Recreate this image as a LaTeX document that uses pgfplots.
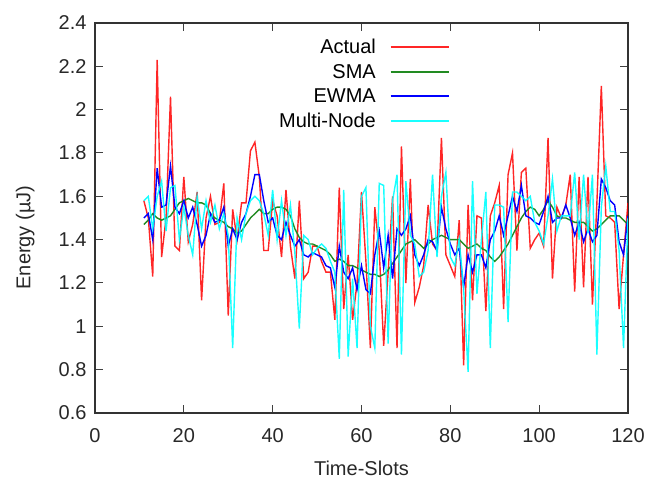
\documentclass[border=0pt]{standalone}
\usepackage{pgfplots}
\pgfplotsset{compat=1.18}
\usepackage{pgfplotstable}
\usepackage{fontspec}
\setmainfont{Liberation Sans}
\definecolor{cred}{RGB}{255,0,0}
\definecolor{cgreen}{RGB}{34,139,34}
\definecolor{cblue}{RGB}{0,0,255}
\definecolor{ccyan}{RGB}{0,255,255}
\definecolor{txt}{RGB}{40,40,40}

\pgfplotstableread{
t v
11 1.58
12 1.50
13 1.23
14 2.23
15 1.32
16 1.50
17 2.06
18 1.37
19 1.35
20 1.69
21 1.39
22 1.47
23 1.62
24 1.12
25 1.50
26 1.60
27 1.47
28 1.48
29 1.66
30 1.05
31 1.54
32 1.40
33 1.57
34 1.57
35 1.81
36 1.85
37 1.69
38 1.35
39 1.35
40 1.58
41 1.51
42 1.32
43 1.63
44 1.37
45 1.22
46 1.58
47 1.22
48 1.25
49 1.37
50 1.37
51 1.30
52 1.25
53 1.25
54 1.03
55 1.64
56 1.08
57 1.33
58 1.03
59 1.20
60 1.62
61 1.30
62 0.90
63 1.55
64 1.35
65 0.91
66 1.25
67 1.60
68 0.90
69 1.83
70 1.20
71 1.68
72 1.11
73 1.18
74 1.28
75 1.56
76 1.38
77 1.35
78 1.87
79 1.33
80 1.28
81 1.23
82 1.49
83 0.82
84 1.56
85 1.12
86 1.51
87 1.50
88 1.07
89 1.51
90 1.57
91 1.65
92 1.08
93 1.70
94 1.80
95 1.35
96 1.71
97 1.73
98 1.36
99 1.40
100 1.43
101 1.37
102 1.87
103 1.22
104 1.55
105 1.50
106 1.56
107 1.70
108 1.16
109 1.69
110 1.18
111 1.69
112 1.10
113 1.57
114 2.11
115 1.51
116 1.50
117 1.48
118 1.08
119 1.33
120 1.57
}\actual

\pgfplotstableread{
t v
11 1.47
12 1.49
13 1.52
14 1.50
15 1.49
16 1.50
17 1.51
18 1.54
19 1.57
20 1.58
21 1.59
22 1.58
23 1.57
24 1.57
25 1.56
26 1.52
27 1.50
28 1.49
29 1.48
30 1.46
31 1.45
32 1.43
33 1.44
34 1.47
35 1.50
36 1.52
37 1.54
38 1.52
39 1.52
40 1.54
41 1.55
42 1.55
43 1.54
44 1.51
45 1.45
46 1.41
47 1.39
48 1.38
49 1.38
50 1.37
51 1.36
52 1.35
53 1.33
54 1.30
55 1.31
56 1.30
57 1.28
58 1.28
59 1.27
60 1.26
61 1.25
62 1.24
63 1.24
64 1.23
65 1.24
66 1.26
67 1.29
68 1.32
69 1.35
70 1.38
71 1.39
72 1.40
73 1.38
74 1.36
75 1.38
76 1.40
77 1.41
78 1.42
79 1.41
80 1.40
81 1.40
82 1.40
83 1.38
84 1.36
85 1.37
86 1.38
87 1.36
88 1.35
89 1.32
90 1.30
91 1.32
92 1.35
93 1.38
94 1.42
95 1.46
96 1.50
97 1.53
98 1.55
99 1.54
100 1.51
101 1.54
102 1.58
103 1.55
104 1.51
105 1.50
106 1.50
107 1.49
108 1.48
109 1.48
110 1.48
111 1.46
112 1.44
113 1.45
114 1.47
115 1.49
116 1.51
117 1.51
118 1.51
119 1.49
120 1.47
}\sma

\pgfplotstableread{
t v
11 1.50
12 1.52
13 1.40
14 1.73
15 1.55
16 1.56
17 1.74
18 1.55
19 1.52
20 1.58
21 1.50
22 1.55
23 1.47
24 1.37
25 1.42
26 1.52
27 1.48
28 1.49
29 1.55
30 1.37
31 1.45
32 1.40
33 1.48
34 1.52
35 1.60
36 1.70
37 1.70
38 1.58
39 1.48
40 1.50
41 1.42
42 1.40
43 1.48
44 1.42
45 1.37
46 1.40
47 1.33
48 1.32
49 1.34
50 1.33
51 1.32
52 1.28
53 1.27
54 1.18
55 1.37
56 1.25
57 1.22
58 1.27
59 1.17
60 1.28
61 1.17
62 1.15
63 1.33
64 1.44
65 1.27
66 1.42
67 1.22
68 1.45
69 1.42
70 1.45
71 1.51
72 1.33
73 1.28
74 1.33
75 1.40
76 1.39
77 1.35
78 1.55
79 1.45
80 1.38
81 1.33
82 1.36
83 1.18
84 1.33
85 1.25
86 1.33
87 1.33
88 1.27
89 1.40
90 1.44
91 1.51
92 1.42
93 1.51
94 1.60
95 1.53
96 1.65
97 1.51
98 1.50
99 1.48
100 1.47
101 1.53
102 1.60
103 1.48
104 1.50
105 1.50
106 1.56
107 1.50
108 1.42
109 1.48
110 1.39
111 1.45
112 1.39
113 1.42
114 1.68
115 1.64
116 1.58
117 1.56
118 1.39
119 1.33
120 1.51
}\ewma

\pgfplotstableread{
t v
11 1.58
12 1.60
13 1.45
14 1.60
15 1.67
16 1.44
17 1.64
18 1.65
19 1.40
20 1.55
21 1.42
22 1.33
23 1.60
24 1.45
25 1.58
26 1.48
27 1.56
28 1.45
29 1.52
30 1.42
31 0.90
32 1.50
33 1.40
34 1.52
35 1.58
36 1.60
37 1.58
38 1.52
39 1.42
40 1.63
41 1.40
42 1.58
43 1.42
44 1.56
45 1.34
46 0.99
47 1.42
48 1.40
49 1.33
50 1.36
51 1.38
52 1.36
53 1.30
54 1.25
55 0.85
56 1.63
57 0.86
58 1.22
59 0.90
60 1.60
61 1.64
62 1.00
63 0.90
64 1.66
65 1.65
66 0.92
67 1.58
68 1.70
69 0.87
70 1.67
71 1.42
72 1.38
73 1.23
74 1.25
75 1.35
76 1.70
77 1.32
78 1.60
79 1.71
80 1.32
81 1.28
82 1.40
83 1.17
84 0.79
85 1.67
86 1.15
87 1.40
88 1.62
89 0.90
90 1.56
91 1.56
92 1.55
93 1.02
94 1.62
95 1.62
96 1.60
97 1.58
98 1.60
99 1.48
100 1.44
101 1.38
102 1.51
103 1.68
104 1.44
105 1.51
106 1.51
107 1.51
108 1.71
109 1.40
110 1.70
111 1.43
112 1.70
113 0.87
114 1.55
115 1.74
116 1.53
117 1.53
118 1.35
119 0.90
120 1.50
}\multinode

\begin{document}
\begin{tikzpicture}
\begin{axis}[
  scale only axis,
  width=533pt, height=390pt,
  xmin=0, xmax=120, ymin=0.6, ymax=2.4,
  xtick={0,20,...,120},
  ytick={0.6,0.8,...,2.41},
  yticklabel style={/pgf/number format/fixed, /pgf/number format/precision=1, xshift=-5pt},
  xticklabel style={yshift=-12pt},
  /pgf/number format/assume math mode=true,
  tick align=inside,
  major tick length=8pt,
  axis line style={line width=1.6pt, draw=black!80},
  tick style={line width=1pt, draw=black!75},
  ticklabel style={font=\fontsize{20}{24}\selectfont, text=txt},
  label style={font=\fontsize{20}{24}\selectfont, text=txt},
  xlabel={Time-Slots},
  ylabel={Energy (µJ)},
  xlabel style={at={(axis description cs:0.5,-0.142)}, anchor=center},
  ylabel style={at={(axis description cs:-0.131,0.45)}, anchor=center},
  legend style={draw=none, fill=none, at={(axis description cs:0.671,0.972)}, anchor=north east,
    font=\fontsize{20}{24}\selectfont, row sep=3pt,
    nodes={inner ysep=3pt}},
  legend cell align=right,
  legend plot pos=right,
  legend image code/.code={\draw[#1, line width=1.6pt] (0pt,0pt) (12pt,0pt) -- (70pt,0pt);},
  every axis plot/.append style={line width=1.4pt},
]
\addplot[cred, opacity=0.85] table[x=t,y=v] {\actual};
\addlegendentry{Actual}
\addplot[cgreen] table[x=t,y=v] {\sma};
\addlegendentry{SMA}
\addplot[cblue] table[x=t,y=v] {\ewma};
\addlegendentry{EWMA}
\addplot[ccyan, opacity=0.9] table[x=t,y=v] {\multinode};
\addlegendentry{Multi-Node}
\end{axis}
\path (-95pt,-71pt) rectangle (553pt,413pt);
\end{tikzpicture}
\end{document}
